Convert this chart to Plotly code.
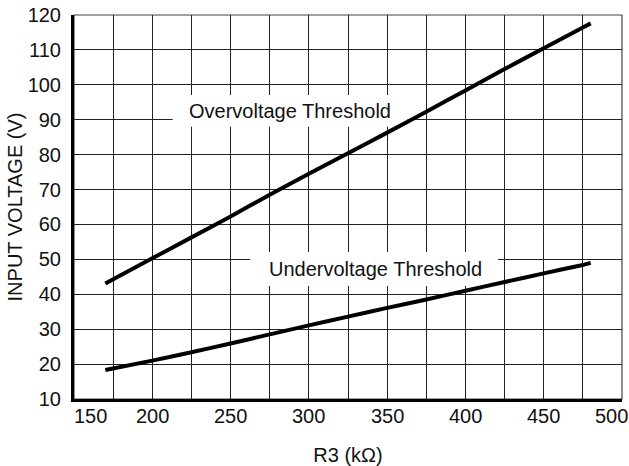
import plotly.graph_objects as go

# ---- data ----
r3_over = [170, 200, 225, 250, 275, 300, 325, 350, 375, 400, 425, 450, 475, 480]
v_over = [43.1, 50.3, 56.3, 62.3, 68.5, 74.5, 80.4, 86.3, 92.3, 98.4, 104.5, 110.5, 116.4, 117.6]

r3_under = [170, 200, 225, 250, 275, 300, 325, 350, 375, 400, 425, 450, 475, 480]
v_under = [18.3, 21.0, 23.4, 25.9, 28.5, 31.1, 33.6, 36.1, 38.5, 41.0, 43.5, 46.0, 48.4, 49.0]

x_tick_vals = [150, 200, 250, 300, 350, 400, 450, 500]
x_tick_text = ["150", "200", "250", "300", "350", "400", "450", "500"]
x_grid_vals = [150, 175, 200, 225, 250, 275, 300, 325, 350, 375, 400, 425, 450, 475, 500]
y_tick_vals = [10, 20, 30, 40, 50, 60, 70, 80, 90, 100, 110, 120]
y_tick_text = ["10", "20", "30", "40", "50", "60", "70", "80", "90", "100", "110", "120"]

label_text = ["Overvoltage Threshold", "Undervoltage Threshold"]

FONT = "Liberation Sans, Arial, sans-serif"
INK = "#111111"

fig = go.Figure()
fig.add_trace(go.Scatter(x=r3_over, y=v_over, mode="lines",
                         line=dict(color="black", width=4, shape="spline", smoothing=0.6),
                         showlegend=False, hoverinfo="skip"))
fig.add_trace(go.Scatter(x=r3_under, y=v_under, mode="lines",
                         line=dict(color="black", width=4, shape="spline", smoothing=0.6),
                         showlegend=False, hoverinfo="skip"))

# frame (thin top/right border)
fig.add_shape(type="rect", xref="paper", yref="paper", x0=0, x1=1, y0=0, y1=1,
              line=dict(color="#444444", width=1.2), layer="below")

# white label boxes: above grid, beneath curves
fig.add_shape(type="rect", x0=213, x1=363, y0=88.0, y1=97.1, layer="between",
              fillcolor="white", line=dict(width=0))
fig.add_shape(type="rect", x0=262.5, x1=420.8, y0=42.4, y1=52.1, layer="between",
              fillcolor="white", line=dict(width=0))

fig.add_annotation(x=288, y=92.5, text=label_text[0], showarrow=False,
                   font=dict(family=FONT, size=20, color=INK))
fig.add_annotation(x=342.5, y=47.2, text=label_text[1], showarrow=False,
                   font=dict(family=FONT, size=20, color=INK))

# x tick labels (edge labels nudged inward as in the reference)
for v, t in zip(x_tick_vals, x_tick_text):
    shift = 16 if v == x_tick_vals[0] else (-11 if v == x_tick_vals[-1] else 0)
    fig.add_annotation(x=v, xref="x", y=0, yref="paper", yanchor="top", yshift=-4,
                       xshift=shift, text=t, showarrow=False,
                       font=dict(family=FONT, size=20, color=INK))

fig.update_xaxes(range=[150, 500], tickvals=x_grid_vals, showticklabels=False,
                 showgrid=True, gridcolor="#222222", gridwidth=1.4,
                 showline=True, linecolor="black", linewidth=3, zeroline=False,
                 ticks="",
                 title=dict(text="R3 (kΩ)", font=dict(family=FONT, size=20, color=INK),
                            standoff=48))
fig.update_yaxes(range=[10, 120], tickvals=y_tick_vals, ticktext=y_tick_text,
                 showgrid=True, gridcolor="#222222", gridwidth=1.4,
                 showline=True, linecolor="black", linewidth=3, zeroline=False,
                 ticks="", ticklabelstandoff=6,
                 tickfont=dict(family=FONT, size=20, color=INK),
                 title=dict(text="INPUT VOLTAGE (V)", font=dict(family=FONT, size=20, color=INK),
                            standoff=0))

fig.update_layout(width=629, height=466, autosize=False,
                  margin=dict(l=74, r=7, t=15, b=67, autoexpand=False),
                  plot_bgcolor="white", paper_bgcolor="white",
                  font=dict(family=FONT, size=20, color=INK))

fig.write_html("out.html", config={"displayModeBar": False},
               post_script="document.body.style.margin='0';document.body.style.overflow='hidden';")
